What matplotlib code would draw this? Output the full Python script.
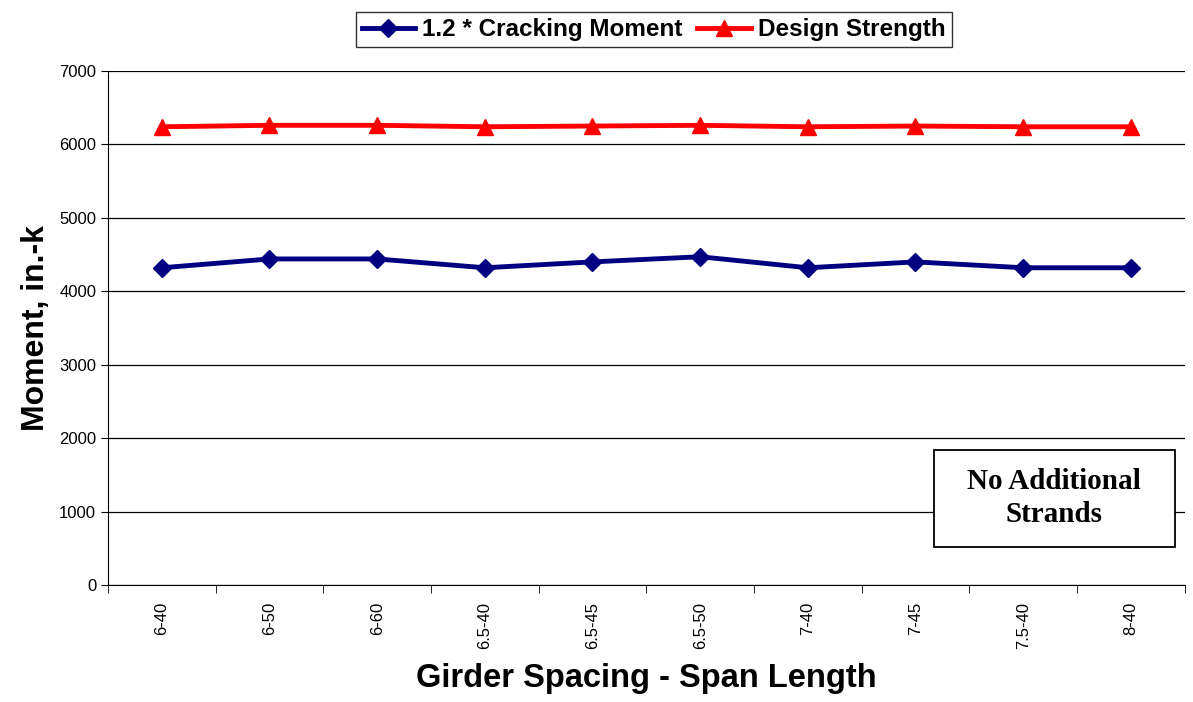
import matplotlib.pyplot as plt
import numpy as np
from matplotlib.patches import Rectangle

categories = ["6-40", "6-50", "6-60", "6.5-40", "6.5-45", "6.5-50", "7-40", "7-45", "7.5-40", "8-40"]
cracking = [4320, 4440, 4440, 4320, 4400, 4470, 4320, 4400, 4320, 4320]
design = [6240, 6260, 6260, 6240, 6250, 6260, 6240, 6250, 6240, 6240]

plt.rcParams["font.family"] = ["Liberation Sans", "DejaVu Sans"]

fig = plt.figure(figsize=(11.93, 7.02), dpi=100)
ax = fig.add_axes([0.0905, 0.1667, 0.9025, 0.7322])

x = np.arange(len(categories))
ax.plot(x, cracking, color="#000080", lw=3.5, marker="D", ms=9, label="1.2 * Cracking Moment")
ax.plot(x, design, color="#ff0000", lw=3.5, marker="^", ms=11, label="Design Strength")

ax.set_xlim(-0.5, len(categories) - 0.5)
ax.set_ylim(0, 7000)
ax.set_yticks(np.arange(0, 7001, 1000))
ax.tick_params(axis="y", labelsize=12, length=5, direction="out")
ax.yaxis.grid(True, color="black", lw=0.9)
ax.set_axisbelow(True)

# category labels centred, tick marks between categories
ax.set_xticks(x)
ax.set_xticklabels(categories, rotation=90, fontsize=12)
ax.tick_params(axis="x", length=0, pad=12)
ax.set_xticks(np.arange(-0.5, len(categories)), minor=True)
ax.tick_params(axis="x", which="minor", length=6)

for s in ["top", "right"]:
    ax.spines[s].set_visible(False)

ax.set_xlabel("Girder Spacing - Span Length", fontsize=23.5, fontweight="bold", labelpad=10)
ax.set_ylabel("Moment, in.-k", fontsize=23, fontweight="bold", labelpad=6)

leg = fig.legend(loc="upper center", bbox_to_anchor=(0.548, 1.0), ncol=2,
                 prop={"weight": "bold", "size": 17.5}, frameon=True, fancybox=False,
                 handlelength=2.2, handletextpad=0.3, columnspacing=0.6, borderpad=0.25)
leg.get_frame().set_edgecolor("black")
leg.get_frame().set_linewidth(1.0)

ax.add_patch(Rectangle((0.767, 0.074), 0.224, 0.189, transform=ax.transAxes,
                       facecolor="white", edgecolor="black", lw=1.3, zorder=5, clip_on=False))
ax.text(0.879, 0.169, "No Additional\nStrands", transform=ax.transAxes, ha="center", va="center",
        fontsize=21, fontweight="bold", family=["Liberation Serif", "DejaVu Serif"],
        linespacing=1.3, zorder=6)

fig.savefig("out.png", dpi=100)
